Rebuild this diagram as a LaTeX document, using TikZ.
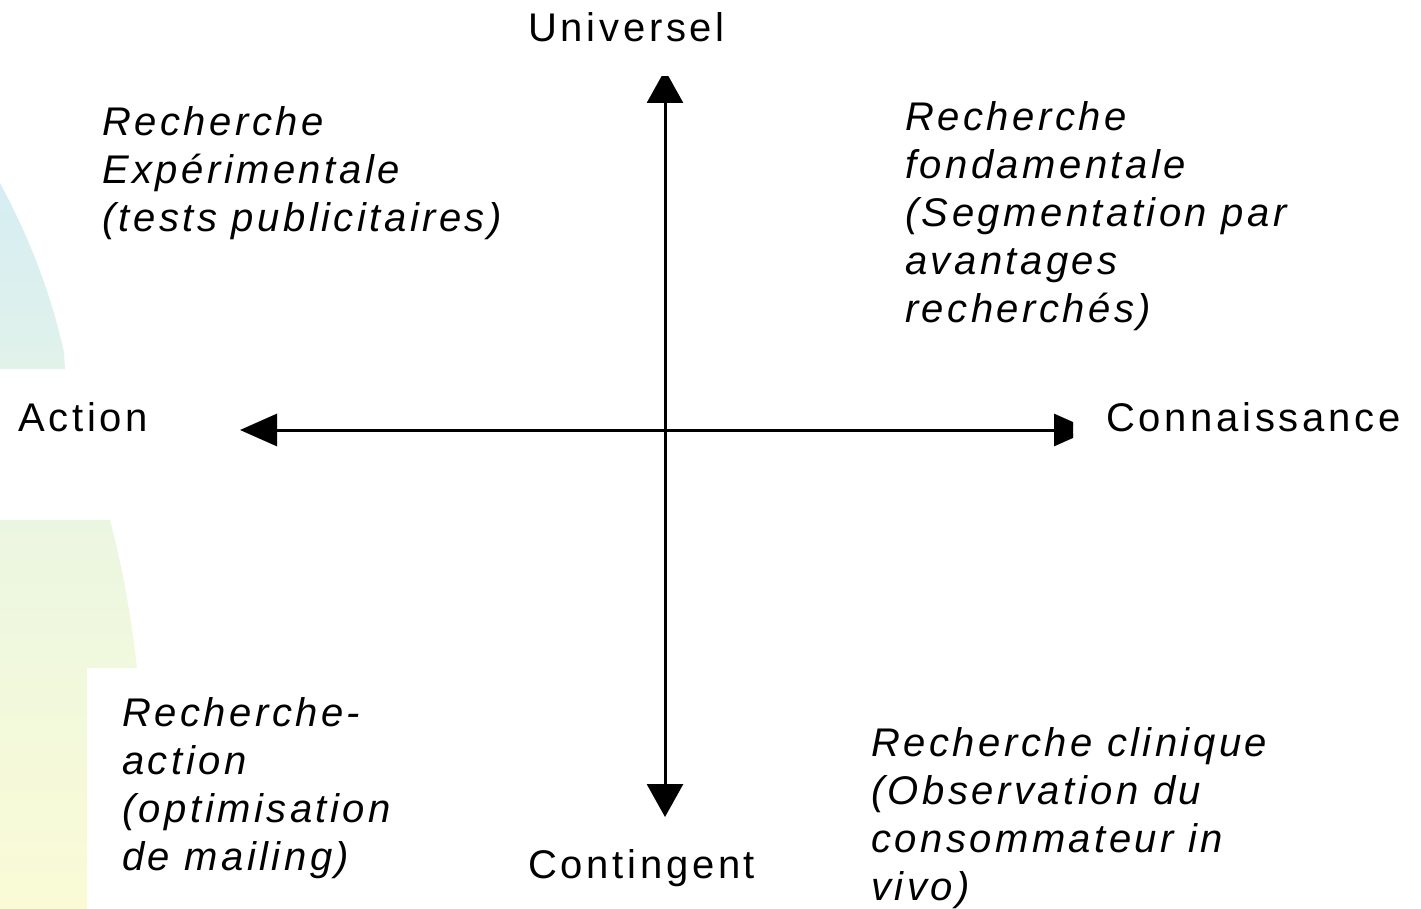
\documentclass[tikz,border=0pt]{standalone}
\usepackage{fontspec}
\setmainfont{Liberation Sans}
\newfontfamily\axisfont[LetterSpace=9.3]{Liberation Sans}
\newfontfamily\quadfont[LetterSpace=8.7]{Liberation Sans}
\usetikzlibrary{arrows.meta}
\definecolor{cyantop}{RGB}{213,237,243}
\definecolor{cyanbot}{RGB}{225,242,234}
\definecolor{yeltop}{RGB}{235,246,225}
\definecolor{yelbot}{RGB}{250,251,214}
\begin{document}
\begin{tikzpicture}[x=1pt,y=-1pt,
  axislabel/.style={inner sep=0pt,anchor=base west,
    font=\axisfont\fontsize{40}{48}\selectfont},
  quadrant/.style={inner sep=0pt,anchor=north west,align=left,
    font=\quadfont\itshape\fontsize{40}{48}\selectfont},
  axisline/.style={line width=3pt}]
\useasboundingbox (0,0) rectangle (1421,909);

% pale decorative shapes on the left edge
\shade[top color=cyantop,bottom color=cyanbot]
  (0,183) .. controls (28,235) and (50,290) .. (64,352) -- (65,369) -- (0,369) -- cycle;
\shade[top color=yeltop,bottom color=yelbot]
  (0,520) -- (110,520) .. controls (122,565) and (131,615) .. (137,668)
  -- (87,668) -- (87,909) -- (0,909) -- cycle;

% axis end points
\coordinate (ax-top) at (665,70);
\coordinate (ax-bot) at (665,817);
\coordinate (ax-left) at (240,430);
\coordinate (ax-right) at (1091,430);

% the two axes (tips trimmed by the clip)
\begin{scope}
  \clip (0,77) rectangle (1073,909);
  \draw[axisline,{Triangle[length=33pt,width=36pt]}-{Triangle[length=33pt,width=36pt]}]
    (ax-top) -- (ax-bot);
  \draw[axisline,{Triangle[length=37pt,width=32pt]}-{Triangle[length=37pt,width=32pt]}]
    (ax-left) -- (ax-right);
\end{scope}

% axis labels
\node[axislabel] (universel) at (528,42) {Universel};
\node[axislabel] (contingent) at (528,878) {Contingent};
\node[axislabel] (action) at (18,431) {Action};
\node[axislabel] (connaissance) at (1106,431) {Connaissance};

% quadrant texts
\node[quadrant] (q-nw) at (102,106) {Recherche\\Expérimentale\\(tests publicitaires)};
\node[quadrant] (q-ne) at (905,101) {Recherche\\fondamentale\\(Segmentation par\\avantages\\recherchés)};
\node[quadrant] (q-sw) at (122,697) {Recherche-\\action\\(optimisation\\de mailing)};
\node[quadrant] (q-se) at (871,727) {Recherche clinique\\(Observation du\\consommateur in\\vivo)};
\end{tikzpicture}
\end{document}
